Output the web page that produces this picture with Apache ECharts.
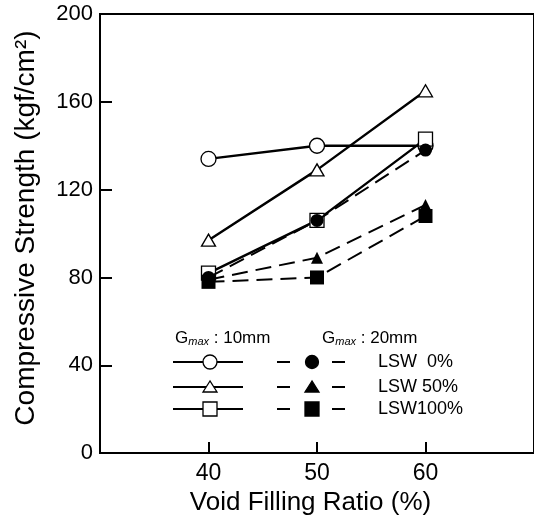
<!DOCTYPE html>
<html><head><meta charset="utf-8">
<script src="https://cdn.jsdelivr.net/npm/echarts@6/dist/echarts.min.js"></script>
<style>html,body{margin:0;padding:0;background:#fff}#c{width:534px;height:521px}</style>
</head><body><div id="c"></div>
<script>
const xTicks = [40, 50, 60];
const yTicks = [0, 40, 80, 120, 160, 200];
const g10_LSW0 = [134, 140, 140];
const g10_LSW50 = [97, 129, 165];
const g10_LSW100 = [82, 106, 143];
const g20_LSW0 = [80, 106, 138];
const g20_LSW50 = [79, 89, 113];
const g20_LSW100 = [78, 80, 108];
const legendRows = ['LSW  0%', 'LSW 50%', 'LSW100%'];

const FONT = 'Liberation Sans, Arial, sans-serif';
function pts(arr){ return xTicks.map((x,i)=>[x, arr[i]]); }
function solid(name, data, symbol, size){
  return {name, type:'line', data:pts(data), symbol, symbolSize:size, z:2,
    lineStyle:{color:'#000', width:2.4}, itemStyle:{color:'#fff', borderColor:'#000', borderWidth:1.3},
    emphasis:{disabled:true}};
}
function dashed(name, data, symbol, size){
  return {name, type:'line', data:pts(data), symbol, symbolSize:size, z:3,
    lineStyle:{color:'#000', width:2, type:[16,8]}, itemStyle:{color:'#000', borderColor:'#000', borderWidth:0},
    emphasis:{disabled:true}};
}
const rowY = [362, 387, 409];
const symbols = [
  (x,y,filled)=>({type:'circle', shape:{cx:x, cy:y, r:filled?6.5:7}, style:{fill:filled?'#000':'#fff', stroke:'#000', lineWidth:1.3}, z:10}),
  (x,y,filled)=>({type:'polygon', shape:{points:[[x,y-6],[x-7,y+5],[x+7,y+5]]}, style:{fill:filled?'#000':'#fff', stroke:'#000', lineWidth:1.3}, z:10}),
  (x,y,filled)=>({type:'rect', shape:{x:x-7, y:y-7, width:14, height:14}, style:{fill:filled?'#000':'#fff', stroke:'#000', lineWidth:1.3}, z:10})
];
const graphics = [];
const rich = {g:{fontFamily:FONT, fontSize:17, fill:'#000'}, m:{fontFamily:FONT, fontSize:11, fontStyle:'italic', fill:'#000', padding:[8,0,0,0]}};
graphics.push({type:'text', x:175, y:338, style:{text:'{g|G}{m|max}{g| : 10mm}', rich, verticalAlign:'middle'}, z:10});
graphics.push({type:'text', x:322, y:338, style:{text:'{g|G}{m|max}{g| : 20mm}', rich, verticalAlign:'middle'}, z:10});
legendRows.forEach((label,i)=>{
  const y = rowY[i];
  graphics.push({type:'line', shape:{x1:173, y1:y, x2:243, y2:y}, style:{stroke:'#000', lineWidth:2.2}, z:9});
  graphics.push(symbols[i](210, y, false));
  graphics.push({type:'line', shape:{x1:277, y1:y, x2:290, y2:y}, style:{stroke:'#000', lineWidth:2}, z:9});
  graphics.push({type:'line', shape:{x1:332, y1:y, x2:345, y2:y}, style:{stroke:'#000', lineWidth:2}, z:9});
  graphics.push(symbols[i](312, y, true));
  graphics.push({type:'text', x:378, y:y, style:{text:label, font:'18px '+FONT, fill:'#000', verticalAlign:'middle'}, z:10});
});

const chart = echarts.init(document.getElementById('c'), null, {renderer:'canvas'});
chart.setOption({
  animation:false,
  backgroundColor:'#fff',
  grid:{left:100, top:14, width:436, height:443, show:true, borderColor:'#000', borderWidth:2, backgroundColor:'transparent'},
  xAxis:{type:'value', min:30, max:70, interval:10,
    name:'Void Filling Ratio (%)', nameLocation:'middle', nameGap:35,
    nameTextStyle:{fontFamily:FONT, fontSize:26, color:'#000', padding:[0,13,0,0]},
    axisLine:{lineStyle:{color:'#000', width:2}},
    axisTick:{inside:true, length:11, lineStyle:{color:'#000', width:2}, customValues:xTicks},
    axisLabel:{fontFamily:FONT, fontSize:23, color:'#000', margin:9, customValues:xTicks},
    splitLine:{show:false}},
  yAxis:{type:'value', min:0, max:200, interval:40,
    name:'Compressive Strength (kgf/cm²)', nameLocation:'middle', nameGap:60,
    nameTextStyle:{fontFamily:FONT, fontSize:28, color:'#000', padding:[0,0,0,11]},
    axisLine:{lineStyle:{color:'#000', width:2}},
    axisTick:{inside:true, length:12, lineStyle:{color:'#000', width:2}},
    axisLabel:{fontFamily:FONT, fontSize:22, color:'#000', margin:7},
    splitLine:{show:false}},
  series:[
    solid('10mm LSW 0%', g10_LSW0, 'circle', 15),
    solid('10mm LSW 50%', g10_LSW50, 'triangle', [14,12]),
    solid('10mm LSW 100%', g10_LSW100, 'rect', 14),
    dashed('20mm LSW 0%', g20_LSW0, 'circle', 13),
    dashed('20mm LSW 50%', g20_LSW50, 'triangle', [12,12]),
    dashed('20mm LSW 100%', g20_LSW100, 'rect', 14)
  ],
  graphic:graphics
});
</script></body></html>
